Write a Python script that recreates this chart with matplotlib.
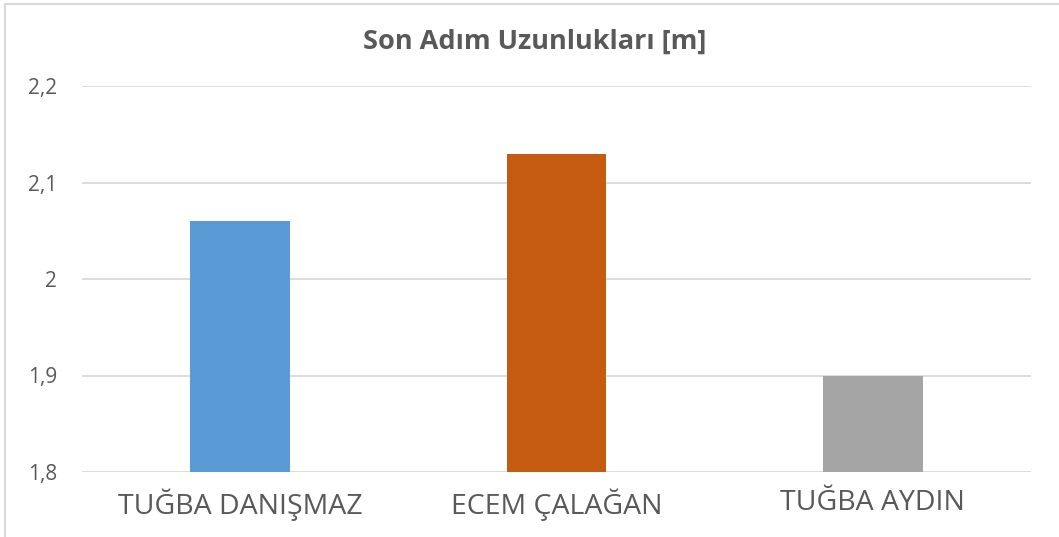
import numpy as np
import matplotlib.pyplot as plt
from matplotlib.patches import Rectangle
from matplotlib.ticker import FuncFormatter

# data
names = ['TUĞBA DANIŞMAZ', 'ECEM ÇALAĞAN', 'TUĞBA AYDIN']
values = [2.06, 2.13, 1.90]
colors = ['#5B9BD5', '#C55A11', '#A5A5A5']
yticks = [1.8, 1.9, 2.0, 2.1, 2.2]

plt.rcParams['font.family'] = ['Open Sans', 'DejaVu Sans']
txt = '#595959'
grid = '#D9D9D9'

fig = plt.figure(figsize=(10.59, 5.37), dpi=100)
# chart border (left/top visible in the original crop)
fig.patches.append(Rectangle((5/1059, -0.1), 1.2, 1 - 4/537 + 0.1,
                             transform=fig.transFigure, fill=False,
                             edgecolor=grid, linewidth=1.5))

ax = fig.add_axes([82/1059, 1 - 472/537, (1031 - 82)/1059, (472 - 86)/537])
x = np.arange(len(names))
ax.bar(x, values, width=0.316, color=colors, zorder=3)

ax.set_xlim(-0.5, len(names) - 0.5)
ax.set_ylim(1.8, 2.2)
ax.set_yticks(yticks)
ax.yaxis.set_major_formatter(FuncFormatter(lambda v, p: f'{v:g}'.replace('.', ',')))
ax.grid(axis='y', color=grid, linewidth=1.3, zorder=0)
ax.set_xticks(x)
ax.set_xticklabels(names, fontsize=20.5, color=txt)
ax.tick_params(axis='y', labelsize=15, labelcolor=txt, length=0, pad=18)
ax.tick_params(axis='x', length=0, pad=12)
for s in ax.spines.values():
    s.set_visible(False)

fig.text(535/1059, 1 - 42/537, 'Son Adım Uzunlukları [m]', ha='center', va='center',
         fontsize=19.5, fontweight='bold', color=txt)

fig.savefig('out.png', dpi=100)
